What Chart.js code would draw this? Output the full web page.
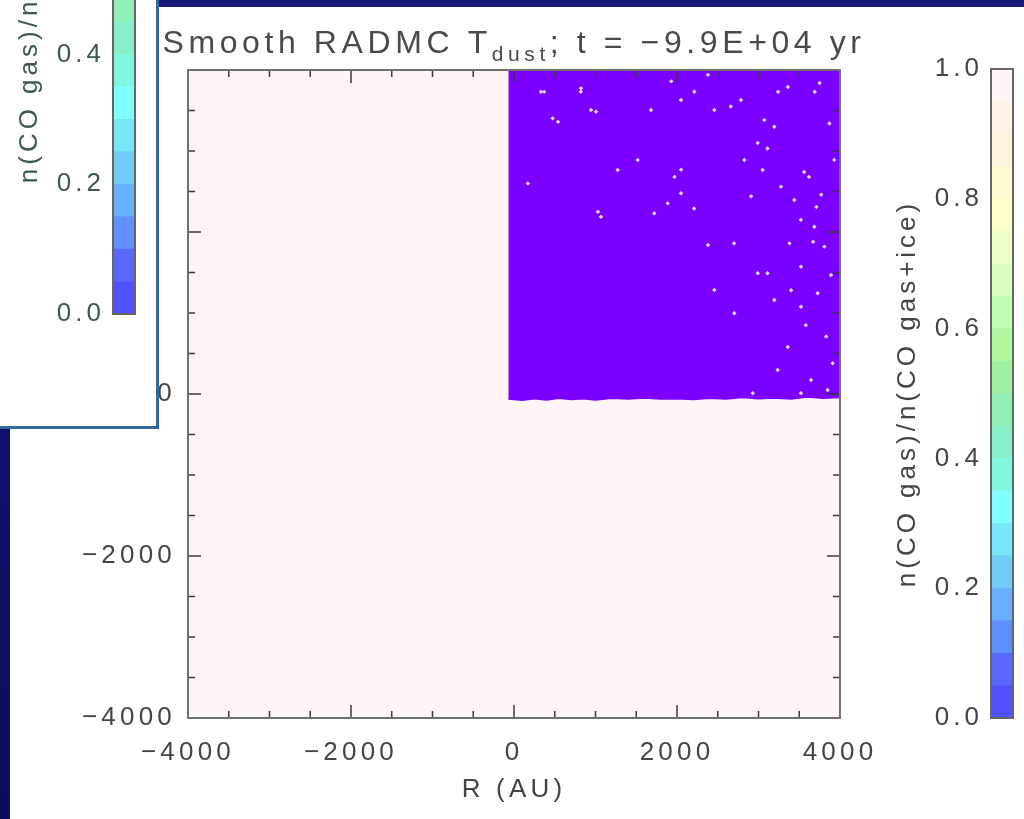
<!DOCTYPE html>
<html>
<head>
<meta charset="utf-8">
<script src="https://cdn.jsdelivr.net/npm/chart.js@4.4.0/dist/chart.umd.min.js"></script>
<style>
html, body { margin: 0; padding: 0; }
body {
    width: 1024px; height: 819px; overflow: hidden; position: relative;
    background: linear-gradient(180deg, #17177c 0%, #10106a 60%, #0c0c5c 100%);
}
#sheet { position: absolute; left: 10px; top: 7px; right: 0; bottom: 0; background: #fff; }
#main { position: absolute; left: 0; top: 0; }
#cbar { position: absolute; left: 880px; top: 40px; }
#inset {
    position: absolute; left: -10px; top: -10px; width: 163px; height: 433px;
    border: 3px solid #33689f; background: #fff; overflow: hidden;
}
#cbar2 { position: absolute; left: 9px; top: -357px; }
</style>
</head>
<body>
<div id="sheet"></div>
<canvas id="main" width="1024" height="819"></canvas>
<canvas id="cbar" width="144" height="720"></canvas>
<div id="inset"><canvas id="cbar2" width="144" height="720"></canvas></div>

<script>
// lower edge of the CO-depleted quadrant (R, z in AU); filled up to z = 4000
const edgeR = [-70, 100, 250, 400, 550, 700, 850, 1000, 1200, 1400, 1600, 1800, 2000, 2200, 2400,
    2600, 2800, 3000, 3200, 3400, 3600, 3800, 4000];
const edgeZ = [-60, -75, -55, -70, -50, -65, -55, -70, -50, -60, -45, -60, -55, -65, -50,
    -60, -40, -55, -45, -60, -35, -50, -40];

// gaps between particles inside the depleted region
const speckR = [3360, 3750, 3690, 3240, 1930, 2380, 2660, 2990, 3110, 3560, 3620, 3770, 3710, 2910,
    1970, 2050, 3380, 3670, 3890, 3580, 3830, 3910, 3360, 2700, 2380, 370, 820, 540, 170, 1030,
    2210, 3520, 3110, 3400, 2930, 3520, 3930, 3870,
    945, 1006, 475, 331, 822, 1681, 2049, 2212, 2458, 2785, 3071, 3194, 2826, 3051, 3276, 3439,
    3685, 3808, 3521, 2990, 3194, 3521, 3726, 2458, 2703, 3235, 3644, 3849, 2049, 1886, 1721,
    1067, 1518, 1272];
const speckZ = [3790, 3840, 3730, 3730, 3860, 3940, 3550, 3100, 3030, 2740, 2680, 2460, 2310, 2440,
    2680, 2770, 1860, 1880, 1470, 850, 710, 380, 580, 1860, 1840, 3730, 3730, 3360, 2600, 2250,
    2290, 2150, 1490, 1280, 10, 10, 2890, 3340,
    3506, 3485, 3403, 3732, 3774, 3506, 3630, 3732, 3506, 3630, 3383, 3300, 2889, 2765, 2559, 2395,
    2065, 1819, 1572, 1490, 1160, 1078, 1243, 1284, 996, 296, 173, 49, 2478, 2354, 2230,
    2189, 2889, 2765];

const xTicks = [-4000, -2000, 0, 2000, 4000];
const yTicks = [-4000, -2000, 0, 2000, 4000];
const cbarTicks = [0, 0.2, 0.4, 0.6, 0.8, 1.0];

// colour table bands, n(CO gas)/n(CO gas+ice)
const cbarEdges = [0, 0.05, 0.1, 0.15, 0.2, 0.25, 0.3, 0.35, 0.4, 0.45, 0.5,
    0.55, 0.6, 0.65, 0.7, 0.75, 0.8, 0.85, 0.9, 0.95, 1.0];
const cbarColors = ['#5050ff', '#5868ff', '#6090ff', '#68b0ff', '#70ccf8', '#78e6f8', '#80ffff',
    '#80f8e0', '#88f0c8', '#90f0b8', '#a0f0a0', '#b0f8a0', '#c0ffb0', '#d8ffc0', '#eeffc8',
    '#ffffc8', '#fff8d0', '#fff2dc', '#fff3e8', '#fff5f5'];

const depletedColor = '#7b00ff';
const fieldColor = '#fff5f5';
const FONT = "'Liberation Sans', Arial, sans-serif";

function minusSign(v) {
    return v < 0 ? '\u2212' + Math.abs(v) : String(v);
}

// IDL-style wide letter spacing for all chart text
const spacing = {
    id: 'spacing',
    beforeUpdate(chart, args, opts) { chart.ctx.letterSpacing = opts.px + 'px'; },
    beforeDraw(chart, args, opts) { chart.ctx.letterSpacing = opts.px + 'px'; }
};

const fieldBg = {
    id: 'fieldBg',
    beforeDatasetsDraw(chart) {
        const a = chart.chartArea;
        chart.ctx.save();
        chart.ctx.fillStyle = fieldColor;
        chart.ctx.fillRect(a.left, a.top, a.right - a.left, a.bottom - a.top);
        chart.ctx.restore();
    }
};

// box frame with inward ticks on all four sides
const frameTicks = {
    id: 'frameTicks',
    afterDatasetsDraw(chart) {
        const {ctx, chartArea: a, scales: {x, y}} = chart;
        ctx.save();
        ctx.strokeStyle = '#3a3a3a';
        ctx.lineWidth = 1.5;
        ctx.beginPath();
        for (let v = -4000; v <= 4000; v += 500) {
            const len = v % 2000 === 0 ? 13 : 7;
            const px = x.getPixelForValue(v);
            ctx.moveTo(px, a.bottom); ctx.lineTo(px, a.bottom - len);
            ctx.moveTo(px, a.top); ctx.lineTo(px, a.top + len);
            const py = y.getPixelForValue(v);
            ctx.moveTo(a.left, py); ctx.lineTo(a.left + len, py);
            ctx.moveTo(a.right, py); ctx.lineTo(a.right - len, py);
        }
        ctx.stroke();
        ctx.strokeStyle = '#707070';
        ctx.lineWidth = 2;
        ctx.strokeRect(a.left, a.top, a.right - a.left, a.bottom - a.top);
        ctx.restore();
    }
};

// title with subscript, centred over the plot
const plotTitle = {
    id: 'plotTitle',
    afterDraw(chart) {
        const {ctx, chartArea: a} = chart;
        const parts = [
            {t: 'Smooth RADMC T', size: 32, dy: 0},
            {t: 'dust', size: 21, dy: 8},
            {t: '; t = \u22129.9E+04 yr', size: 32, dy: 0}
        ];
        ctx.save();
        ctx.letterSpacing = '4.6px';
        ctx.fillStyle = '#4a4a4a';
        ctx.textBaseline = 'alphabetic';
        let w = 0;
        parts.forEach(p => { ctx.font = p.size + 'px ' + FONT; p.w = ctx.measureText(p.t).width; w += p.w; });
        let x0 = (a.left + a.right) / 2 - w / 2;
        parts.forEach(p => {
            ctx.font = p.size + 'px ' + FONT;
            ctx.fillText(p.t, x0, 53 + p.dy);
            x0 += p.w;
        });
        ctx.restore();
    }
};

new Chart(document.getElementById('main'), {
    type: 'scatter',
    data: {
        datasets: [{
            data: speckR.map((r, i) => ({x: r, y: speckZ[i]})),
            order: 0,
            pointStyle: 'rectRot',
            pointRadius: 2.2,
            borderWidth: 0,
            backgroundColor: 'rgba(255,255,255,0.85)'
        }, {
            type: 'line',
            data: edgeR.map((r, i) => ({x: r, y: edgeZ[i]})),
            order: 1,
            fill: 'end',
            backgroundColor: depletedColor,
            borderColor: depletedColor,
            borderWidth: 2,
            pointRadius: 0,
            tension: 0
        }]
    },
    options: {
        responsive: false,
        animation: false,
        events: [],
        layout: {padding: {top: 70, right: 184, left: 0, bottom: 0}},
        plugins: {
            legend: {display: false},
            tooltip: {enabled: false},
            spacing: {px: 4.2}
        },
        scales: {
            x: {
                type: 'linear', min: -4000, max: 4000,
                afterBuildTicks: s => { s.ticks = xTicks.map(v => ({value: v})); },
                afterFit: s => { s.height = 101; },
                grid: {display: false, drawTicks: false},
                border: {display: false},
                ticks: {color: '#454545', padding: 19, maxRotation: 0, font: {family: FONT, size: 26}, callback: minusSign},
                title: {display: true, text: 'R (AU)', color: '#454545', padding: {top: 0, bottom: 14}, font: {family: FONT, size: 26}}
            },
            y: {
                type: 'linear', min: -4000, max: 4000,
                afterBuildTicks: s => { s.ticks = yTicks.map(v => ({value: v})); },
                afterFit: s => { s.width = 188; },
                grid: {display: false, drawTicks: false},
                border: {display: false},
                ticks: {color: '#454545', padding: 12, font: {family: FONT, size: 26},
                    callback: v => v > 0 ? '' : minusSign(v)}
            }
        }
    },
    plugins: [spacing, fieldBg, frameTicks, plotTitle]
});

const barFrame = {
    id: 'barFrame',
    afterDatasetsDraw(chart) {
        const {ctx, chartArea: a} = chart;
        ctx.save();
        ctx.strokeStyle = '#666';
        ctx.lineWidth = 2;
        ctx.strokeRect(a.left, a.top, a.right - a.left, a.bottom - a.top);
        ctx.restore();
    }
};

function colorbar(canvas, textColor) {
    return new Chart(canvas, {
        type: 'bar',
        data: {
            labels: [''],
            datasets: cbarColors.map((c, i) => ({
                data: [[cbarEdges[i], cbarEdges[i + 1]]],
                backgroundColor: c,
                borderWidth: 0,
                grouped: false,
                barPercentage: 1,
                categoryPercentage: 1
            }))
        },
        options: {
            responsive: false,
            animation: false,
            events: [],
            layout: {padding: {top: 29, bottom: 42, right: 11, left: 0}},
            plugins: {legend: {display: false}, tooltip: {enabled: false}, spacing: {px: 4}},
            scales: {
                x: {display: false},
                y: {
                    type: 'linear', min: 0, max: 1,
                    afterBuildTicks: s => { s.ticks = cbarTicks.map(v => ({value: v})); },
                    afterFit: s => { s.width = 111; },
                    grid: {display: false, drawTicks: false},
                    border: {display: false},
                    ticks: {color: textColor, padding: 8, font: {family: FONT, size: 26}, callback: v => v.toFixed(1)},
                    title: {display: true, text: 'n(CO gas)/n(CO gas+ice)', color: textColor,
                        padding: {top: 12, bottom: 0}, font: {family: FONT, size: 26}}
                }
            }
        },
        plugins: [spacing, barFrame]
    });
}

colorbar(document.getElementById('cbar'), '#454545');
colorbar(document.getElementById('cbar2'), '#3e5a4a');
</script>
</body>
</html>
